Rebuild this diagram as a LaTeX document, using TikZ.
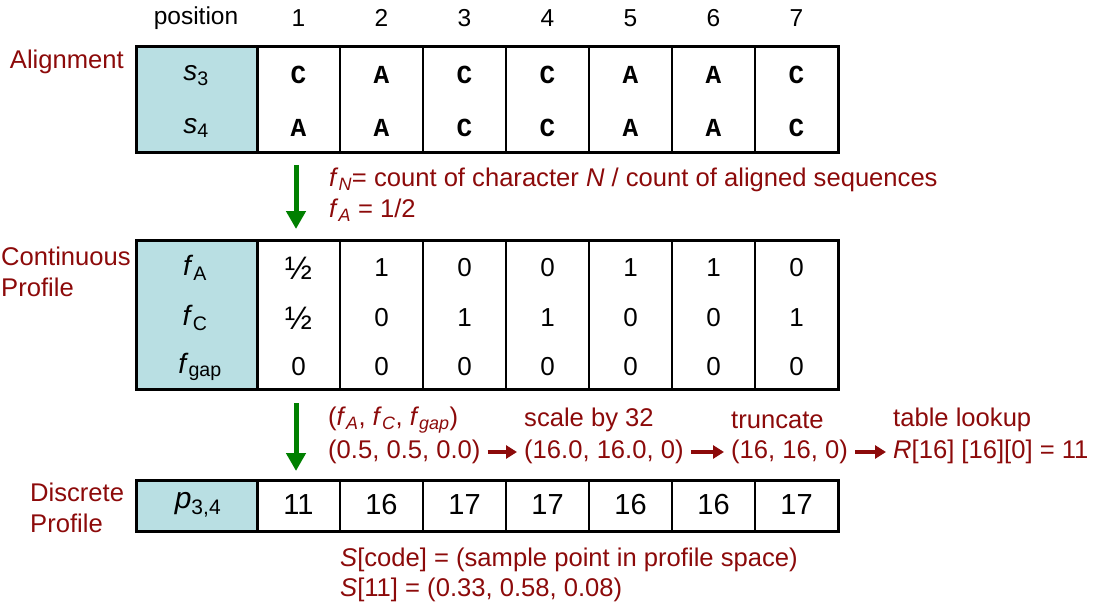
\documentclass[tikz,border=0pt]{standalone}
\usepackage{fontspec}
\setmainfont{Liberation Sans}
\newfontfamily\monobf{Liberation Mono}
\usetikzlibrary{positioning,arrows.meta,calc}
\definecolor{hdrfill}{RGB}{185,223,227}
\definecolor{darkred}{RGB}{140,10,10}
\definecolor{arrowgreen}{RGB}{0,128,0}

\begin{document}
\begin{tikzpicture}[x=1pt,y=-1pt,
  lbl/.style={text=darkred,font=\fontsize{25.6}{31}\selectfont,inner sep=0pt},
  poslbl/.style={font=\fontsize{24.5}{29}\selectfont,inner sep=0pt},
  cellnum/.style={font=\fontsize{26}{30}\selectfont,inner sep=0pt},
  discnum/.style={font=\fontsize{29}{33}\selectfont,inner sep=0pt},
  basechar/.style={font=\monobf\bfseries\fontsize{26}{30}\selectfont,inner sep=0pt},
  rowname/.style={font=\fontsize{28}{32}\selectfont,inner sep=0pt},
  outerbox/.style={line width=3pt},
  innerline/.style={line width=1.3pt},
  greenarrow/.style={arrowgreen,line width=5pt,-{Triangle[width=19pt,length=18pt]}},
  redarrow/.style={darkred,line width=4pt,-{Triangle[width=13pt,length=11pt]},
    shorten <=7pt,shorten >=7pt}]
  \useasboundingbox (0,0) rectangle (1095,607);

  % column headings
  \node[poslbl] (pos) at (196,18) {position};
  \foreach \i in {1,...,7} {\node[poslbl] (col\i) at ({257+83*\i-41.5},18) {\i};}

  % alignment table
  \fill[hdrfill] (136,47) rectangle (257,153);
  \foreach \k in {1,...,6} {\draw[innerline] ({257+83*\k},47) -- ({257+83*\k},153);}
  \draw[outerbox] (136,47) rectangle (838,153) (257,47) -- (257,153);
  \node[lbl,anchor=east] (alnlbl) at (124,62) {Alignment};
  \node[rowname] (s3) at (196,76) {\textit{s}\textsubscript{3}};
  \node[rowname] (s4) at (196,128) {\textit{s}\textsubscript{4}};
  \foreach \b [count=\i] in {C,A,C,C,A,A,C} {\node[basechar] (sa\i) at ({257+83*\i-41.5},75) {\b};}
  \foreach \b [count=\i] in {A,A,C,C,A,A,C} {\node[basechar] (sb\i) at ({257+83*\i-41.5},128) {\b};}

  % step 1
  \coordinate (g1top) at (296,165);
  \coordinate (g1bot) at (296,229);
  \draw[greenarrow] (g1top) -- (g1bot);
  \node[lbl,anchor=west] (fdef) at (329,180)
    {\textit{f}\textsubscript{\textit{N}}= count of character \textit{N} / count of aligned sequences};
  \node[lbl,anchor=west] (fex) at (329,210) {\textit{f}\textsubscript{\textit{A}} = 1/2};

  % continuous profile
  \fill[hdrfill] (136,240) rectangle (257,389);
  \foreach \k in {1,...,6} {\draw[innerline] ({257+83*\k},240) -- ({257+83*\k},389);}
  \draw[outerbox] (136,240) rectangle (838,389) (257,240) -- (257,389);
  \node[lbl,anchor=west,align=left] (contlbl) at (1,272) {Continuous\\Profile};
  \node[rowname] (fa) at (195,268) {\textit{f}\textsubscript{A}};
  \node[rowname] (fc) at (195,318) {\textit{f}\textsubscript{C}};
  \node[rowname] (fg) at (200,367) {\textit{f}\textsubscript{gap}};
  \foreach \v [count=\i] in {\scalebox{1.25}{½},1,0,0,1,1,0} {\node[cellnum] (pa\i) at ({257+83*\i-41.5},268) {\v};}
  \foreach \v [count=\i] in {\scalebox{1.25}{½},0,1,1,0,0,1} {\node[cellnum] (pc\i) at ({257+83*\i-41.5},318) {\v};}
  \foreach \v [count=\i] in {0,0,0,0,0,0,0} {\node[cellnum] (pg\i) at ({257+83*\i-41.5},367) {\v};}

  % step 2
  \coordinate (g2top) at (296,403);
  \coordinate (g2bot) at (296,471);
  \draw[greenarrow] (g2top) -- (g2bot);
  \node[lbl,anchor=west] (vecname) at (328,420)
    {(\textit{f}\textsubscript{\textit{A}}, \textit{f}\textsubscript{\textit{C}}, \textit{f}\textsubscript{\textit{gap}})};
  \node[lbl,anchor=west] (vec0) at (328,452) {(0.5, 0.5, 0.0)};
  \node[lbl,anchor=west] (scale) at (524,420) {scale by 32};
  \node[lbl,anchor=west] (vec1) at (524,452) {(16.0, 16.0, 0)};
  \node[lbl,anchor=west] (trunc) at (731,420) {truncate};
  \node[lbl,anchor=west] (vec2) at (731,452) {(16, 16, 0)};
  \node[lbl,anchor=west] (lookup) at (893,420) {table lookup};
  \node[lbl,anchor=west] (vec3) at (893,452) {\textit{R}[16] [16][0] = 11};
  \draw[redarrow] (vec0.east) -- (vec1.west);
  \draw[redarrow] (vec1.east) -- (vec2.west);
  \draw[redarrow] (vec2.east) -- (vec3.west);

  % discrete profile
  \fill[hdrfill] (136,480) rectangle (257,531);
  \foreach \k in {1,...,6} {\draw[innerline] ({257+83*\k},480) -- ({257+83*\k},531);}
  \draw[outerbox] (136,480) rectangle (838,531) (257,480) -- (257,531);
  \node[lbl,anchor=west,align=left] (disclbl) at (30,508) {Discrete\\Profile};
  \node[rowname,font=\fontsize{30}{34}\selectfont] (p34) at (198,505) {\textit{p}\textsubscript{3,4}};
  \foreach \v [count=\i] in {11,16,17,17,16,16,17} {\node[discnum] (d\i) at ({257+83*\i-41.5},505) {\v};}

  % sample points
  \node[lbl,anchor=west] (scode) at (340,560) {\textit{S}[code] = (sample point in profile space)};
  \node[lbl,anchor=west] (s11) at (340,590) {\textit{S}[11] = (0.33, 0.58, 0.08)};
\end{tikzpicture}
\end{document}
